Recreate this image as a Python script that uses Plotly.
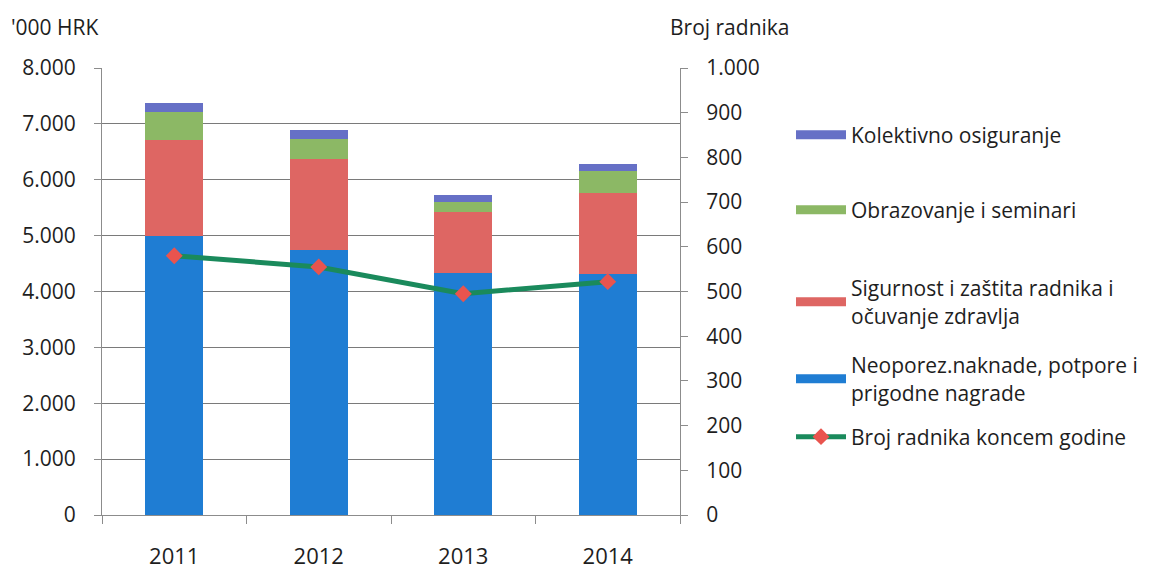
import plotly.graph_objects as go

# podaci ('000 HRK) - procjena s grafa
godine = ['2011', '2012', '2013', '2014']
neoporez = [4990, 4740, 4335, 4310]
sigurnost = [1720, 1630, 1085, 1455]
obrazovanje = [495, 365, 175, 400]
kolektivno = [165, 155, 130, 125]
broj_radnika = [580, 555, 495, 522]

lijeve_oznake = [0, 1000, 2000, 3000, 4000, 5000, 6000, 7000, 8000]
desne_oznake = [0, 100, 200, 300, 400, 500, 600, 700, 800, 900, 1000]

FONT = 'Open Sans'
TXT = '#1e1e1e'
FS = 21

# stranica ima 8px margine (body), pa se sve pomice za 8px
serije = [
    ('Neoporez.naknade, potpore i<br>prigodne nagrade', neoporez, '#1f7dd3', 'legend4'),
    ('Sigurnost i zaštita radnika i<br>očuvanje zdravlja', sigurnost, '#de6663', 'legend3'),
    ('Obrazovanje i seminari', obrazovanje, '#8cb865', 'legend2'),
    ('Kolektivno osiguranje', kolektivno, '#6670c6', 'legend'),
]

fig = go.Figure()

for ime, vrijednosti, boja, leg in serije:
    fig.add_trace(go.Bar(
        x=godine, y=vrijednosti, marker=dict(color=boja, line=dict(width=0)),
        width=0.4, showlegend=False, hoverinfo='y', name=ime
    ))
    # legenda kao siroka traka (kao u Excelu)
    fig.add_trace(go.Scatter(
        x=[None], y=[None], mode='lines', name=ime,
        line=dict(color=boja, width=9), legend=leg
    ))

fig.add_trace(go.Scatter(
    x=godine, y=broj_radnika, yaxis='y2', mode='lines+markers',
    name='Broj radnika koncem godine',
    line=dict(color='#1a8a5c', width=5),
    marker=dict(symbol='diamond', size=13, color='#e9544e',
                line=dict(color='#e9544e', width=0)),
    legend='legend5'
))

def leg_pos(y_px):
    return dict(
        xref='container', yref='container', x=783 / 1149, y=1 - (y_px - 8) / 574,
        xanchor='left', yanchor='middle', bgcolor='rgba(0,0,0,0)',
        font=dict(family=FONT, size=FS, color=TXT), itemwidth=50
    )

fig.update_layout(
    width=1149, height=574,
    margin=dict(l=94, r=477, t=60, b=60),
    paper_bgcolor='white', plot_bgcolor='white',
    barmode='stack', bargap=0.6,
    separators=',.',
    font=dict(family=FONT, size=FS, color=TXT),
    xaxis=dict(
        type='category', showgrid=False, showline=True, linecolor='#8c8c8c',
        ticks='outside', tickson='boundaries', ticklen=8, tickcolor='#8c8c8c',
        ticklabelstandoff=22, tickfont=dict(size=22, color=TXT)
    ),
    yaxis=dict(
        range=[0, 8000], tickvals=lijeve_oznake, tickformat=',d',
        showgrid=True, gridcolor='#7a7a7a', gridwidth=1,
        showline=True, linecolor='#8c8c8c', ticks='outside', ticklen=7,
        tickcolor='#8c8c8c', ticklabelstandoff=14, zeroline=False,
        tickfont=dict(size=FS, color=TXT)
    ),
    yaxis2=dict(
        range=[0, 1000], tickvals=desne_oznake, tickformat=',d',
        overlaying='y', side='right', showgrid=False,
        showline=True, linecolor='#8c8c8c', ticks='outside', ticklen=7,
        tickcolor='#8c8c8c', ticklabelstandoff=14, zeroline=False,
        tickfont=dict(size=FS, color=TXT)
    ),
    legend=leg_pos(135),
    legend2=leg_pos(210),
    legend3=leg_pos(302),
    legend4=leg_pos(379),
    legend5=leg_pos(437),
    annotations=[
        dict(text="'000 HRK", xref='paper', yref='paper', x=0, y=1,
             xshift=-93, yshift=41, xanchor='left', yanchor='middle',
             showarrow=False, font=dict(family=FONT, size=FS, color=TXT)),
        dict(text='Broj radnika', xref='paper', yref='paper', x=1, y=1,
             xshift=-12, yshift=41, xanchor='left', yanchor='middle',
             showarrow=False, font=dict(family=FONT, size=FS, color=TXT)),
    ]
)

fig.write_html('out.html')
